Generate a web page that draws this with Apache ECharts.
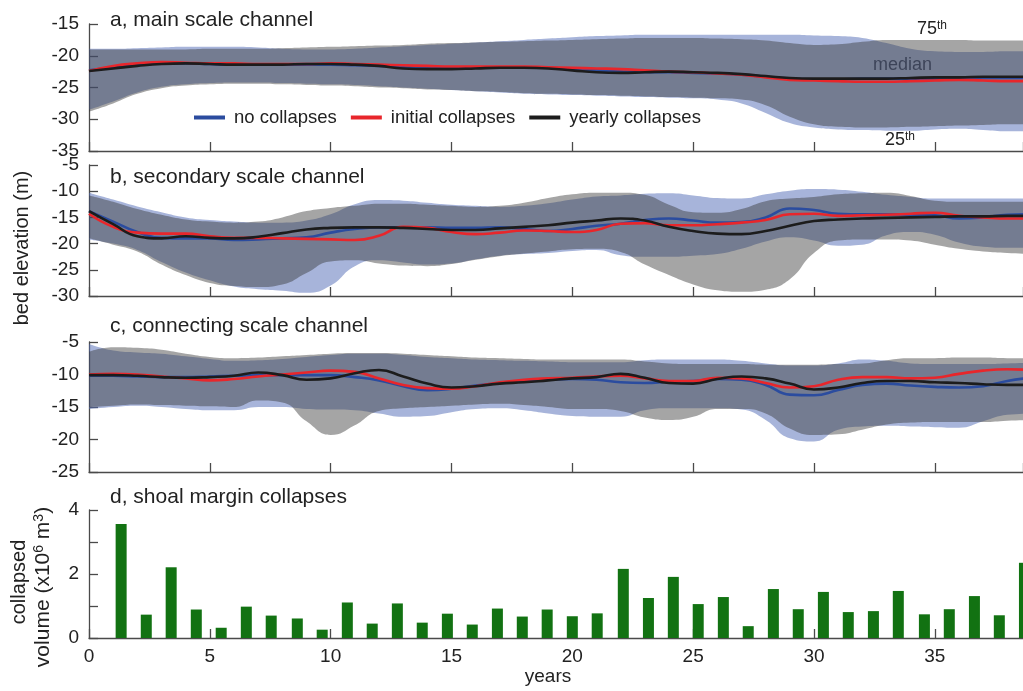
<!DOCTYPE html>
<html>
<head>
<meta charset="utf-8">
<script src="https://cdn.jsdelivr.net/npm/echarts@6/dist/echarts.min.js"></script>
<style>
  html, body { margin: 0; padding: 0; background: #ffffff; }
  #chart { width: 1023px; height: 691px; }
</style>
</head>
<body>
<div id="chart"></div>
<script>
// ---- time axis (years) ----
const YEARS = [0,1,2,3,4,5,6,7,8,9,10,11,12,13,14,15,16,17,18,19,20,21,22,23,24,25,26,27,28,29,30,31,32,33,34,35,36,37,38,39];

// ---- a, main scale channel: 25th / 75th percentile bands and medians (m) ----
const A_NO_LO  = [-28.5,-27.2,-25.8,-24.9,-24.5,-24.3,-24.2,-24.2,-24.3,-24.4,-24.5,-24.6,-24.8,-25.0,-25.2,-25.4,-25.6,-25.8,-26.0,-26.1,-26.2,-26.3,-26.4,-26.5,-26.6,-26.7,-26.9,-27.5,-29.0,-30.6,-31.3,-31.6,-31.7,-31.8,-31.8,-31.6,-31.5,-31.7,-31.9,-31.9];
const A_NO_HI  = [-18.9,-18.9,-18.8,-18.7,-18.6,-18.6,-18.6,-18.7,-18.9,-19.0,-19.0,-18.9,-18.7,-18.5,-18.3,-18.1,-17.9,-17.7,-17.5,-17.3,-17.1,-16.9,-16.8,-16.7,-16.7,-16.7,-16.7,-16.7,-16.7,-16.7,-16.8,-16.9,-17.2,-18.0,-18.9,-19.3,-19.4,-19.4,-19.3,-19.3];
const A_YR_LO  = [-28.8,-27.5,-26.0,-25.1,-24.7,-24.5,-24.4,-24.4,-24.5,-24.6,-24.7,-24.8,-25.0,-25.1,-25.3,-25.4,-25.6,-25.7,-25.9,-26.0,-26.1,-26.2,-26.3,-26.4,-26.5,-26.6,-26.7,-26.9,-27.8,-29.6,-30.8,-31.2,-31.3,-31.3,-31.2,-31.1,-31.0,-30.9,-30.8,-30.8];
const A_YR_HI  = [-19.0,-19.0,-19.0,-19.0,-19.0,-18.9,-18.9,-18.9,-18.8,-18.7,-18.6,-18.5,-18.4,-18.3,-18.1,-18.0,-17.9,-17.8,-17.7,-17.6,-17.5,-17.4,-17.3,-17.2,-17.2,-17.2,-17.3,-17.4,-17.6,-18.0,-18.3,-18.2,-17.8,-17.5,-17.5,-17.5,-17.5,-17.6,-17.6,-17.6];
const A_NO_MED = [-22.3,-21.8,-21.4,-21.2,-21.2,-21.3,-21.4,-21.4,-21.4,-21.4,-21.4,-21.5,-21.6,-21.8,-21.9,-21.9,-21.9,-21.8,-21.8,-21.9,-22.1,-22.3,-22.5,-22.6,-22.6,-22.7,-22.8,-23.0,-23.3,-23.6,-23.7,-23.7,-23.6,-23.6,-23.6,-23.6,-23.5,-23.5,-23.5,-23.5];
const A_IN_MED = [-22.4,-21.6,-21.2,-21.0,-21.1,-21.2,-21.2,-21.3,-21.3,-21.3,-21.2,-21.3,-21.4,-21.5,-21.6,-21.7,-21.7,-21.7,-21.7,-21.8,-21.9,-22.0,-22.1,-22.3,-22.5,-22.6,-22.8,-23.0,-23.4,-23.8,-23.9,-24.0,-24.1,-24.1,-24.0,-23.9,-23.8,-23.9,-24.0,-24.0];
const A_YR_MED = [-22.4,-22.0,-21.6,-21.3,-21.2,-21.3,-21.4,-21.4,-21.4,-21.3,-21.3,-21.4,-21.6,-22.0,-22.1,-22.1,-22.0,-21.9,-21.9,-22.0,-22.3,-22.6,-22.7,-22.6,-22.5,-22.6,-22.7,-22.9,-23.2,-23.5,-23.6,-23.6,-23.6,-23.6,-23.5,-23.4,-23.4,-23.3,-23.3,-23.3];

// ---- b, secondary scale channel ----
const B_NO_LO  = [-19.2,-20.0,-21.2,-23.5,-25.5,-27.0,-28.2,-28.7,-29.0,-29.4,-28.0,-24.3,-23.2,-23.6,-24.0,-23.8,-23.0,-22.3,-22.0,-21.8,-21.4,-21.2,-22.2,-22.5,-22.5,-22.3,-22.0,-21.0,-19.6,-18.8,-19.4,-20.4,-20.2,-18.4,-17.8,-18.3,-19.8,-20.6,-20.8,-20.8];
const B_NO_HI  = [-10.3,-11.6,-12.9,-14.0,-15.0,-15.5,-15.8,-16.0,-16.0,-15.6,-14.4,-12.5,-11.7,-11.8,-12.2,-12.6,-12.8,-13.0,-12.8,-12.3,-11.6,-11.0,-10.8,-10.5,-10.4,-10.8,-11.3,-11.4,-10.6,-9.9,-9.6,-9.7,-10.1,-10.7,-11.1,-11.4,-11.4,-11.4,-11.4,-11.4];
const B_YR_LO  = [-19.0,-20.2,-21.5,-24.0,-26.0,-27.5,-28.1,-28.3,-27.8,-25.6,-23.4,-23.2,-23.8,-24.2,-24.3,-23.9,-23.1,-22.4,-21.9,-21.5,-21.1,-21.0,-21.6,-24.0,-26.0,-27.8,-28.9,-29.2,-28.8,-26.8,-21.8,-19.4,-19.2,-19.2,-19.4,-20.2,-21.0,-21.5,-21.8,-22.0];
const B_YR_HI  = [-10.8,-12.0,-13.4,-14.5,-15.4,-15.8,-16.0,-15.8,-15.0,-13.8,-13.2,-12.8,-12.4,-12.4,-12.6,-12.8,-13.0,-12.8,-12.2,-11.3,-10.6,-10.3,-10.3,-10.7,-12.6,-14.0,-14.1,-13.4,-11.9,-11.4,-11.1,-10.6,-10.4,-10.3,-10.9,-11.8,-12.0,-12.0,-12.0,-12.0];
const B_NO_MED = [-13.8,-15.8,-17.8,-18.9,-19.0,-19.0,-19.3,-19.2,-19.0,-18.8,-17.9,-17.2,-16.9,-16.9,-16.9,-17.0,-17.0,-16.9,-17.2,-17.6,-17.2,-16.6,-16.2,-15.5,-15.2,-15.6,-16.0,-15.9,-15.0,-13.3,-13.6,-14.3,-14.4,-14.4,-14.5,-14.6,-15.2,-15.0,-14.5,-14.4];
const B_IN_MED = [-14.3,-16.8,-17.9,-18.1,-18.1,-18.6,-18.9,-18.9,-19.0,-19.1,-19.2,-19.3,-18.5,-16.8,-17.0,-17.8,-18.2,-17.9,-17.5,-17.6,-17.8,-17.4,-16.2,-16.1,-16.5,-16.5,-16.3,-16.0,-15.5,-14.4,-14.3,-14.7,-14.6,-14.5,-14.3,-14.1,-14.7,-15.0,-15.2,-15.2];
const B_YR_MED = [-13.8,-16.3,-18.6,-19.0,-18.6,-18.9,-19.0,-18.7,-18.0,-17.3,-17.0,-16.9,-16.9,-17.0,-17.2,-17.4,-17.4,-17.1,-16.8,-16.5,-16.0,-15.6,-15.2,-15.6,-16.8,-17.6,-18.1,-18.2,-17.6,-16.6,-15.7,-15.4,-15.2,-15.1,-15.0,-14.9,-14.8,-14.8,-14.7,-14.7];

// ---- c, connecting scale channel ----
const C_NO_LO  = [-15.3,-15.0,-14.8,-15.0,-15.3,-15.5,-15.5,-15.0,-15.0,-15.3,-15.4,-15.5,-16.0,-16.5,-16.4,-15.8,-15.3,-15.2,-15.5,-16.0,-16.4,-16.5,-16.5,-15.5,-15.2,-15.2,-15.2,-15.4,-17.0,-19.8,-20.3,-18.5,-18.0,-17.9,-18.0,-18.1,-18.2,-17.2,-16.2,-16.0];
const C_NO_HI  = [-5.3,-6.3,-6.6,-6.8,-7.2,-7.6,-7.9,-7.8,-7.6,-7.3,-7.0,-6.8,-6.8,-7.0,-7.3,-7.5,-7.7,-7.8,-7.9,-8.0,-8.1,-8.1,-8.1,-7.8,-7.7,-7.7,-7.7,-7.9,-8.3,-8.6,-8.6,-8.3,-7.7,-7.9,-8.3,-8.4,-8.4,-8.4,-8.3,-8.2];
const C_YR_LO  = [-15.0,-14.8,-14.6,-14.7,-14.8,-14.9,-15.0,-14.0,-14.3,-17.2,-19.3,-17.8,-15.6,-15.2,-15.0,-14.8,-14.6,-14.5,-14.7,-15.0,-15.3,-15.3,-15.6,-16.6,-17.0,-16.5,-15.3,-15.3,-16.0,-18.3,-19.3,-19.2,-18.5,-17.7,-17.4,-17.3,-17.3,-17.3,-17.1,-17.0];
const C_YR_HI  = [-6.5,-5.8,-5.9,-6.2,-6.8,-7.3,-7.5,-7.4,-7.2,-7.0,-6.8,-6.7,-6.7,-6.8,-7.0,-7.2,-7.4,-7.5,-7.6,-7.7,-7.7,-7.7,-7.7,-8.0,-8.3,-8.4,-8.4,-8.4,-8.5,-8.5,-8.5,-8.4,-8.3,-7.8,-7.5,-7.5,-7.4,-7.4,-7.5,-7.5];
const C_NO_MED = [-10.2,-10.2,-10.3,-10.4,-10.4,-10.3,-10.2,-10.1,-10.1,-10.1,-10.1,-10.4,-10.9,-11.8,-12.4,-12.2,-11.7,-11.3,-11.0,-10.8,-10.7,-10.8,-11.2,-11.3,-11.1,-11.0,-10.7,-10.8,-11.6,-13.1,-13.2,-12.4,-11.6,-11.4,-11.7,-11.9,-12.0,-11.8,-11.0,-10.5];
const C_IN_MED = [-10.0,-9.9,-10.0,-10.3,-10.6,-10.9,-10.7,-10.3,-10.0,-9.7,-9.4,-9.6,-10.6,-11.6,-12.1,-12.2,-11.8,-11.2,-10.8,-10.6,-10.5,-10.3,-10.2,-10.6,-11.0,-11.0,-10.5,-10.6,-11.3,-12.0,-11.8,-10.8,-10.4,-10.4,-10.6,-10.5,-9.9,-9.4,-9.2,-9.3];
const C_YR_MED = [-10.1,-10.1,-10.2,-10.4,-10.5,-10.4,-10.2,-9.7,-10.1,-10.8,-10.6,-9.8,-9.3,-10.3,-11.4,-12.0,-11.8,-11.4,-11.2,-10.9,-10.6,-10.4,-9.9,-10.5,-11.3,-11.4,-10.7,-10.3,-10.6,-11.4,-12.3,-12.0,-11.3,-11.0,-11.0,-11.2,-11.3,-11.5,-11.6,-11.6];

// ---- d, shoal margin collapses (x10^6 m^3) ----
const COLLAPSE_YEARS  = [1.33,2.37,3.40,4.44,5.47,6.51,7.54,8.62,9.65,10.69,11.72,12.76,13.79,14.83,15.86,16.90,17.93,18.96,20.00,21.03,22.11,23.15,24.18,25.21,26.25,27.28,28.32,29.35,30.39,31.42,32.46,33.49,34.57,35.60,36.64,37.67,38.71];
const COLLAPSE_VOLUME = [3.56,0.73,2.21,0.89,0.32,0.98,0.70,0.61,0.26,1.11,0.45,1.08,0.48,0.76,0.42,0.92,0.67,0.89,0.68,0.77,2.16,1.25,1.91,1.06,1.28,0.37,1.53,0.90,1.44,0.81,0.84,1.47,0.74,0.90,1.31,0.71,2.35];

// ---- axis ranges ----
const X_MAX = 38.65;
const Y_RANGES = [[-35, -15], [-30, -5], [-25, -5], [0, 4]];

const SCENARIOS = ['no collapses', 'initial collapses', 'yearly collapses'];
const LINE_COLORS = ['#2b4c9f', '#e8262b', '#1c1c1c'];

const FONT = '"Liberation Sans", Arial, sans-serif';
const INK = '#222222';
const AXIS_COLOR = '#4a4a4a';
const SMOOTH = 0.5;

const pairs = (xs, ys) => xs.map((x, k) => [x, ys[k]]);

// A 25th-75th percentile band: an invisible lower line plus a stacked, filled spread.
// Rows are [value, year] so that the stacked dimension is the elevation (y).
function band(id, idx, lo, hi, color, opacity) {
  const common = {
    type: 'line', xAxisIndex: idx, yAxisIndex: idx,
    stack: id, stackStrategy: 'all', smooth: SMOOTH,
    encode: { x: 1, y: 0 },
    symbol: 'none', silent: true, z: 1,
    lineStyle: { width: 0, opacity: 0 }
  };
  return [
    Object.assign({}, common, { name: id + ' lower', data: YEARS.map((t, k) => [lo[k], t]) }),
    Object.assign({}, common, {
      name: id + ' spread',
      data: YEARS.map((t, k) => [hi[k] - lo[k], t]),
      areaStyle: { color: color, opacity: opacity }
    })
  ];
}

function median(k, idx, vals) {
  return {
    name: SCENARIOS[k], type: 'line', xAxisIndex: idx, yAxisIndex: idx,
    data: pairs(YEARS, vals), smooth: SMOOTH, symbol: 'none', silent: true, z: 3,
    lineStyle: { color: LINE_COLORS[k], width: 2.6 },
    itemStyle: { color: LINE_COLORS[k] }
  };
}

const GRID_TOPS = [24, 165, 342, 510];
const GRID_HEIGHTS = [127, 131, 130, 128];

const axisLine = { show: true, onZero: false, lineStyle: { color: AXIS_COLOR, width: 1.3 } };
const axisTick = { show: true, inside: true, length: 9, lineStyle: { color: AXIS_COLOR, width: 1.3 } };

const grids = GRID_TOPS.map((top, i) => ({
  left: 89, right: 0, top: top, height: GRID_HEIGHTS[i],
  containLabel: false, outerBoundsMode: 'none'
}));

const xAxes = GRID_TOPS.map((_, i) => ({
  type: 'value', gridIndex: i, min: 0, max: X_MAX, interval: 5,
  axisLine: axisLine, axisTick: axisTick, splitLine: { show: false },
  axisLabel: {
    show: i === 3, fontSize: 19, color: INK, fontFamily: FONT, margin: 9,
    showMaxLabel: false,
    formatter: v => (v % 5 === 0 ? String(v) : '')
  }
}));

const yAxes = Y_RANGES.map((r, i) => ({
  type: 'value', gridIndex: i, min: r[0], max: r[1], interval: i === 3 ? 1 : 5,
  axisLine: axisLine, axisTick: axisTick, splitLine: { show: false },
  axisLabel: {
    fontSize: 19, color: INK, fontFamily: FONT, margin: 10,
    formatter: v => (i === 3 && v % 2 !== 0 ? '' : String(v))
  }
}));

const BLUE_BAND = '#4f69b5';
const GRAY_BAND = '#373737';

const series = [];
const PANELS = [
  [A_NO_LO, A_NO_HI, A_YR_LO, A_YR_HI, A_NO_MED, A_IN_MED, A_YR_MED],
  [B_NO_LO, B_NO_HI, B_YR_LO, B_YR_HI, B_NO_MED, B_IN_MED, B_YR_MED],
  [C_NO_LO, C_NO_HI, C_YR_LO, C_YR_HI, C_NO_MED, C_IN_MED, C_YR_MED]
];
PANELS.forEach((p, i) => {
  series.push(...band('no collapses band ' + i, i, p[0], p[1], BLUE_BAND, 0.5));
  series.push(...band('yearly collapses band ' + i, i, p[2], p[3], GRAY_BAND, 0.45));
  series.push(median(0, i, p[4]));
  series.push(median(1, i, p[5]));
  series.push(median(2, i, p[6]));
});

series.push({
  name: 'collapsed volume', type: 'bar', xAxisIndex: 3, yAxisIndex: 3,
  data: pairs(COLLAPSE_YEARS, COLLAPSE_VOLUME), barWidth: 11, silent: true,
  itemStyle: { color: '#127212' }
});

function label(text, x, y, size, opts) {
  const supSize = Math.round(size * 0.65);
  return Object.assign({
    type: 'text', x: x, y: y, silent: true,
    style: Object.assign({
      text: text, fill: INK, font: size + 'px ' + FONT,
      align: 'left', verticalAlign: 'middle',
      rich: { sup: { fontSize: supSize, fontFamily: FONT, verticalAlign: 'top', lineHeight: supSize } }
    }, (opts && opts.style) || {})
  }, (opts && opts.el) || {});
}

const graphics = [
  label('a, main scale channel', 110, 20, 21),
  label('b, secondary scale channel', 110, 177, 21),
  label('c, connecting scale channel', 110, 326, 21),
  label('d, shoal margin collapses', 110, 497, 21),
  label('75{sup|th}', 917, 29, 18),
  label('median', 873, 65, 18, { style: { fill: '#333333' } }),
  label('25{sup|th}', 885, 140, 18),
  label('bed elevation (m)', 22, 248, 20, { style: { align: 'center' }, el: { rotation: Math.PI / 2 } }),
  label('collapsed', 19, 582, 20, { style: { align: 'center' }, el: { rotation: Math.PI / 2 } }),
  label('volume (x10{sup|6} m{sup|3})', 43, 587, 21, { style: { align: 'center' }, el: { rotation: Math.PI / 2 } }),
  label('years', 548, 677, 19, { style: { align: 'center' } })
];

const chart = echarts.init(document.getElementById('chart'), null, { renderer: 'canvas' });
chart.setOption({
  animation: false,
  backgroundColor: '#ffffff',
  textStyle: { fontFamily: FONT },
  grid: grids,
  xAxis: xAxes,
  yAxis: yAxes,
  legend: {
    data: SCENARIOS, left: 194, top: 108, padding: 0, icon: 'rect',
    itemWidth: 31, itemHeight: 4, itemGap: 14, selectedMode: false,
    textStyle: { fontSize: 18.5, color: INK, fontFamily: FONT, padding: [0, 0, 0, 4] }
  },
  graphic: graphics,
  series: series
});
</script>
</body>
</html>
